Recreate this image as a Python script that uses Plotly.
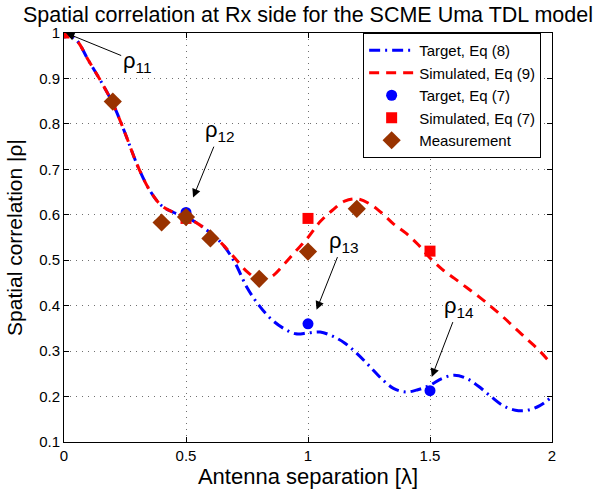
import plotly.graph_objects as go

# Continuous curves
x_curve = [0.0, 0.05, 0.1, 0.15, 0.2, 0.25, 0.3, 0.35, 0.4, 0.45, 0.5, 0.55, 0.6, 0.65,
           0.7, 0.75, 0.8, 0.85, 0.9, 0.95, 1.0, 1.05, 1.1, 1.15, 1.2, 1.25, 1.3, 1.35,
           1.4, 1.45, 1.5, 1.55, 1.6, 1.65, 1.7, 1.75, 1.8, 1.85, 1.9, 1.95, 2.0]
target_eq8 = [1.0, 0.985, 0.94, 0.895, 0.845, 0.78, 0.71, 0.655, 0.62, 0.605, 0.595, 0.58, 0.56, 0.535,
              0.495, 0.44, 0.40, 0.37, 0.35, 0.338, 0.34, 0.342, 0.333, 0.318, 0.295, 0.268, 0.24, 0.218,
              0.21, 0.215, 0.225, 0.24, 0.247, 0.24, 0.222, 0.2, 0.18, 0.17, 0.17, 0.18, 0.20]
simulated_eq9 = [1.0, 0.985, 0.94, 0.895, 0.845, 0.78, 0.71, 0.655, 0.62, 0.605, 0.595, 0.58, 0.56, 0.535,
                 0.505, 0.475, 0.458, 0.464, 0.49, 0.52, 0.55, 0.585, 0.61, 0.63, 0.635, 0.625, 0.605, 0.58,
                 0.56, 0.535, 0.505, 0.48, 0.46, 0.44, 0.42, 0.398, 0.375, 0.35, 0.325, 0.30, 0.27]

# Discrete points
x_eq7 = [0.0, 0.5, 1.0, 1.5]
target_eq7 = [1.0, 0.605, 0.36, 0.213]
simulated_eq7 = [1.0, 0.592, 0.592, 0.52]

x_meas = [0.2, 0.4, 0.5, 0.6, 0.8, 1.0, 1.2]
measurement = [0.849, 0.583, 0.595, 0.548, 0.459, 0.519, 0.613]

FONT = "Liberation Sans, Arial, sans-serif"

fig = go.Figure()
fig.add_trace(go.Scatter(x=x_curve, y=target_eq8, mode="lines", name="Target, Eq (8)",
                         line=dict(color="#0000FF", width=3, dash="11px,5px,2px,5px", shape="spline")))
fig.add_trace(go.Scatter(x=x_curve, y=simulated_eq9, mode="lines", name="Simulated, Eq (9)",
                         line=dict(color="#FF0000", width=3, dash="10px,7px", shape="spline")))
fig.add_trace(go.Scatter(x=x_eq7, y=target_eq7, mode="markers", name="Target, Eq (7)",
                         marker=dict(color="#0000FF", size=11, symbol="circle")))
fig.add_trace(go.Scatter(x=x_eq7, y=simulated_eq7, mode="markers", name="Simulated, Eq (7)",
                         marker=dict(color="#FF0000", size=11, symbol="square")))
fig.add_trace(go.Scatter(x=x_meas, y=measurement, mode="markers", name="Measurement",
                         marker=dict(color="#993300", size=14, symbol="diamond")))

annots = [
    ("ρ<sub>11</sub>", 0.30, 0.936, 0.008, 1.0),
    ("ρ<sub>12</sub>", 0.64, 0.784, 0.529, 0.638),
    ("ρ<sub>13</sub>", 1.146, 0.541, 1.035, 0.391),
    ("ρ<sub>14</sub>", 1.618, 0.398, 1.507, 0.243),
]
for txt, tx, ty, hx, hy in annots:
    fig.add_annotation(x=hx, y=hy, ax=tx, ay=ty, xref="x", yref="y", axref="x", ayref="y",
                       text=txt, showarrow=True, arrowhead=2, arrowsize=1.7, arrowwidth=1,
                       arrowcolor="black", font=dict(size=22, color="black", family=FONT))

axis_common = dict(showline=True, linecolor="black", linewidth=1, mirror="ticks",
                   ticks="inside", ticklen=5, tickcolor="black", zeroline=False,
                   showgrid=True, gridcolor="#707070", griddash="1px,5px", gridwidth=1,
                   automargin=False,
                   tickfont=dict(size=15, color="black", family=FONT))

fig.update_xaxes(range=[0, 2], tickvals=[0, 0.5, 1, 1.5, 2],
                 title=dict(text="Antenna separation [λ]", font=dict(size=22, color="black", family=FONT),
                            standoff=4),
                 **axis_common)
fig.update_yaxes(range=[0.1, 1], dtick=0.1, tick0=0.1,
                 title=dict(text="Spatial correlation |ρ|", font=dict(size=21, color="black", family=FONT),
                            standoff=10),
                 **axis_common)

fig.update_layout(
    width=606, height=493,
    margin=dict(l=64, r=54, t=33, b=51, autoexpand=False),
    paper_bgcolor="white", plot_bgcolor="white",
    font=dict(family=FONT, color="black"),
    title=dict(text="Spatial correlation at Rx side for the SCME Uma TDL model",
               x=0.5, xref="paper", xanchor="center", yref="container", y=1 - 14 / 493,
               yanchor="middle", automargin=False,
               font=dict(size=21.5, color="black", family=FONT)),
    legend=dict(x=0.613, y=1, xanchor="left", yanchor="top", bgcolor="white",
                bordercolor="black", borderwidth=1, font=dict(size=15, color="black", family=FONT),
                tracegroupgap=0, itemwidth=45),
    showlegend=True,
)

fig.write_html("out.html", config={"displayModeBar": False},
               post_script="document.body.style.margin='0';document.body.style.padding='0';")
